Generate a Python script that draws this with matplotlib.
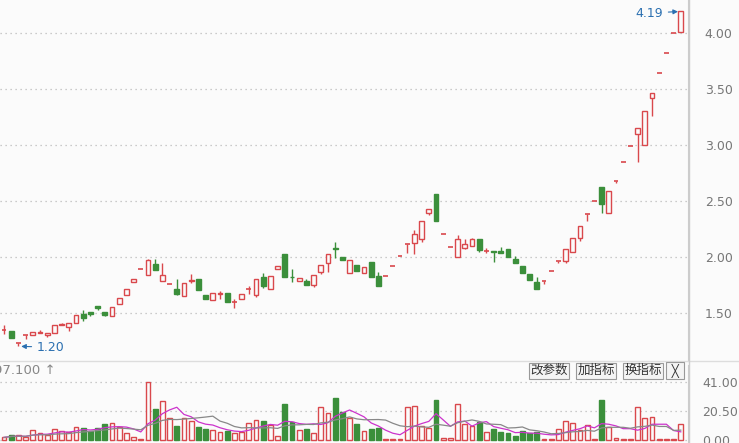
import matplotlib
matplotlib.use("Agg")
import matplotlib.pyplot as plt
import numpy as np
import pandas as pd

opens = [1.35,1.34,1.23,1.30,1.30,1.32,1.30,1.32,1.39,1.37,1.41,1.49,1.51,1.56,1.51,1.47,1.575,1.66,1.77,1.89,
         1.84,1.935,1.78,1.76,1.71,1.65,1.78,1.80,1.66,1.61,1.67,1.68,1.595,1.62,1.71,1.66,1.82,1.71,1.89,2.02,
         1.82,1.78,1.785,1.75,1.86,1.94,2.08,1.995,1.855,1.93,1.855,1.955,1.83,1.825,1.915,2.01,2.11,2.12,2.155,2.39,
         2.56,2.20,2.09,1.995,2.08,2.10,2.155,2.055,2.055,2.055,2.07,1.98,1.915,1.85,1.77,1.78,1.875,1.965,1.965,2.04,
         2.17,2.385,2.50,2.62,2.39,2.68,2.85,2.99,3.10,3.00,3.42,3.64,3.815,4.00,4.005]
highs = [1.39,1.34,1.23,1.30,1.33,1.35,1.32,1.39,1.41,1.41,1.48,1.52,1.51,1.56,1.51,1.55,1.63,1.71,1.80,1.89,
         1.98,1.98,1.94,1.76,1.80,1.765,1.85,1.80,1.66,1.68,1.69,1.68,1.62,1.67,1.74,1.80,1.855,1.83,1.92,2.02,
         1.89,1.81,1.80,1.84,1.93,2.02,2.13,1.995,1.97,1.93,1.905,1.955,1.86,1.825,1.915,2.01,2.11,2.24,2.315,2.43,
         2.56,2.20,2.09,2.19,2.16,2.17,2.155,2.08,2.055,2.09,2.07,2.01,1.915,1.85,1.82,1.78,1.875,1.965,2.065,2.165,
         2.275,2.385,2.50,2.62,2.585,2.68,2.85,2.99,3.145,3.305,3.465,3.64,3.815,4.00,4.19]
lows = [1.31,1.27,1.20,1.265,1.30,1.32,1.285,1.32,1.39,1.34,1.41,1.43,1.47,1.52,1.47,1.47,1.575,1.66,1.77,1.89,
        1.84,1.88,1.78,1.76,1.66,1.65,1.765,1.70,1.62,1.61,1.62,1.60,1.54,1.62,1.67,1.64,1.725,1.71,1.89,1.82,
        1.775,1.78,1.75,1.73,1.85,1.86,1.99,1.97,1.855,1.87,1.855,1.82,1.74,1.825,1.915,2.01,2.035,2.02,2.13,2.37,
        2.32,2.20,2.09,1.995,2.07,2.10,2.045,2.03,1.955,2.035,2.00,1.945,1.855,1.79,1.71,1.755,1.875,1.94,1.94,2.04,
        2.14,2.32,2.50,2.39,2.39,2.66,2.85,2.99,2.85,3.00,3.26,3.64,3.815,4.00,4.005]
closes = [1.35,1.27,1.23,1.30,1.33,1.33,1.32,1.39,1.40,1.41,1.48,1.45,1.49,1.54,1.48,1.55,1.63,1.71,1.80,1.89,
          1.97,1.88,1.84,1.76,1.67,1.765,1.79,1.70,1.62,1.68,1.675,1.60,1.595,1.67,1.71,1.80,1.74,1.83,1.92,1.82,
          1.815,1.81,1.75,1.84,1.93,2.02,2.07,1.97,1.97,1.87,1.905,1.82,1.74,1.825,1.915,2.01,2.11,2.20,2.315,2.43,
          2.32,2.20,2.09,2.155,2.11,2.155,2.06,2.055,2.04,2.035,2.00,1.945,1.855,1.79,1.71,1.78,1.875,1.965,2.065,2.165,
          2.275,2.385,2.50,2.47,2.585,2.68,2.85,2.99,3.145,3.305,3.465,3.64,3.815,4.00,4.19]
volumes = [1.6,3.0,3.0,2.0,6.6,4.5,3.3,7.3,6.3,5.2,8.7,8.2,6.1,8.5,11.1,11.5,9.0,4.5,2.0,0.5,
           40.5,21.7,27.3,15.3,9.9,15.1,13.4,9.2,7.3,6.8,5.6,6.3,4.5,5.4,11.5,13.6,13.2,10.3,2.6,25.2,
           12.2,6.8,7.5,4.5,22.8,18.6,29.2,19.3,15.1,11.1,6.1,7.5,8.5,0.5,0.3,0.8,22.8,23.5,9.6,8.0,
           28.0,0.9,0.9,25.0,11.1,9.9,12.7,5.2,7.5,5.2,4.5,2.6,6.3,4.5,5.2,0.8,0.3,7.3,13.0,11.5,
           6.8,10.1,0.5,28.0,9.2,1.0,0.3,0.4,22.8,15.3,15.8,0.4,0.4,0.4,10.8]
price_ticks = [1.50, 2.00, 2.50, 3.00, 3.50, 4.00]
vol_ticks = [0.00, 20.50, 41.00]
buttons = ["改参数", "加指标", "换指标"]

RED = "#d9484c"
GREEN = "#3b8f3b"
BG = "#fbfbfb"
plt.rcParams['font.family'] = ['Noto Sans CJK SC', 'DejaVu Sans']

W, H = 739, 443
fig = plt.figure(figsize=(W/100, H/100), dpi=100, facecolor=BG)
ax = fig.add_axes([0, (H-360)/H, 688/W, 360/H], facecolor=BG)
axv = fig.add_axes([0, 0, 688/W, 78/H], facecolor=BG)

n = len(opens)
x = np.arange(n)
bw = 0.68
for i in range(n):
    o, h, l, c = opens[i], highs[i], lows[i], closes[i]
    col = GREEN if c < o else RED
    ax.vlines(i, l, h, color=col, lw=1, zorder=2)
    bot, top = min(o, c), max(o, c)
    if top - bot < 0.004:
        ax.hlines(o, i - bw/2, i + bw/2, color=col, lw=1.2, zorder=3)
    else:
        ax.add_patch(plt.Rectangle((i - bw/2, bot), bw, top - bot,
                                   facecolor=(GREEN if col == GREEN else BG),
                                   edgecolor=col, lw=1, zorder=3))
    axv.add_patch(plt.Rectangle((i - bw/2, 0), bw, volumes[i],
                                facecolor=(GREEN if col == GREEN else BG),
                                edgecolor=col, lw=1, zorder=3))

vs = pd.Series(volumes)
axv.plot(x, vs.rolling(5, min_periods=1).mean(), color="#cc33cc", lw=0.9, zorder=4)
axv.plot(x, vs.rolling(10, min_periods=1).mean(), color="#888888", lw=0.9, zorder=4)

for a, lim, ticks in [(ax, (1.078, 4.292), price_ticks), (axv, (-2.33, 52.8), vol_ticks)]:
    a.set_xlim(-0.556, 95.0)
    a.set_ylim(*lim)
    a.set_xticks([])
    a.set_yticks(ticks)
    a.set_yticklabels(["{:.2f}".format(t) for t in ticks], fontsize=9, color="#777777", family="DejaVu Sans")
    a.yaxis.tick_right()
    a.tick_params(axis='y', length=0, pad=12 if a is ax else 10)
    for s in ["top", "left", "bottom"]:
        a.spines[s].set_visible(False)
    a.spines["right"].set_color("#cccccc")
    for t in ticks:
        a.axhline(t, color="#bbbbbb", lw=0.9, ls=(0, (1, 3)), zorder=0)

fig.add_artist(plt.Line2D([0, 1], [(H-361)/H]*2, color="#dddddd", lw=1, transform=fig.transFigure))
fig.add_artist(plt.Line2D([688.5/W]*2, [0, 1], color="#cccccc", lw=1, transform=fig.transFigure))

ax.annotate("1.20", xy=(2, lows[2]), xytext=(4.6, 1.193), color="#2a6fb0", fontsize=9,
            family="DejaVu Sans", va="center",
            arrowprops=dict(arrowstyle="-|>", color="#2a6fb0", lw=0.8, mutation_scale=7))
ax.annotate("4.19", xy=(94, highs[94]), xytext=(91.5, 4.175), color="#2a6fb0", fontsize=9,
            family="DejaVu Sans", va="center", ha="right",
            arrowprops=dict(arrowstyle="-|>", color="#2a6fb0", lw=0.8, mutation_scale=7))

fig.text(-6/W, (H-371)/H, "97.100 ↑", fontsize=9.5, color="#888888", va="center", family="DejaVu Sans")
bx = [549, 596, 643]
for b, cx in zip(buttons, bx):
    fig.text(cx/W, (H-370.5)/H, b, fontsize=9, ha="center", va="center", color="#333333",
             bbox=dict(boxstyle="square,pad=0.12", fc="#f4f4f4", ec="#999999", lw=0.8))
fig.text(675/W, (H-370.5)/H, " ╳ ", fontsize=8.5, ha="center", va="center", color="#333333",
         family=['DejaVu Sans'],
         bbox=dict(boxstyle="square,pad=0.15", fc="#f4f4f4", ec="#999999", lw=0.8))

fig.savefig("out.png", dpi=100, facecolor=BG)
